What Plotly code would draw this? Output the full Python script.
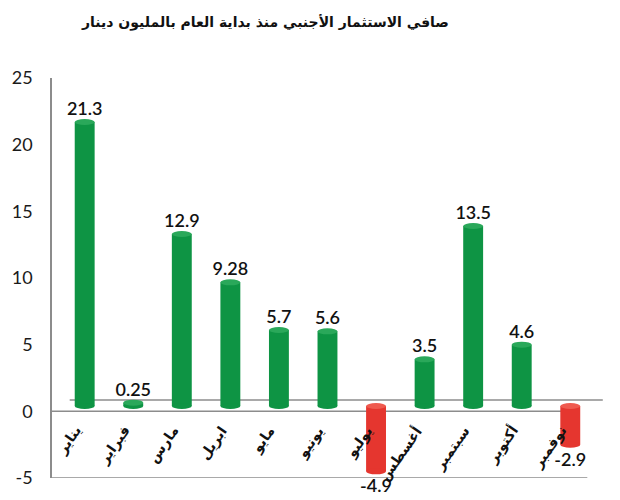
import plotly.graph_objects as go

months = ["يناير", "فبراير", "مارس", "ابريل", "مايو", "يونيو", "يوليو", "أغسطس", "سبتمبر", "أكتوبر", "نوفمبر"]
values = [21.3, 0.25, 12.9, 9.28, 5.7, 5.6, -4.9, 3.5, 13.5, 4.6, -2.9]
value_labels = ["21.3", "0.25", "12.9", "9.28", "5.7", "5.6", "-4.9", "3.5", "13.5", "4.6", "-2.9"]
title_text = "صافي الاستثمار الأجنبي منذ بداية العام بالمليون دينار"
y_ticks = [-5, 0, 5, 10, 15, 20, 25]

GREEN = "#0e9444"
GREEN_CAP = "#2aa85a"
RED = "#e5362f"
RED_CAP = "#ef5a4f"
colors = [GREEN if v >= 0 else RED for v in values]
caps = [GREEN_CAP if v >= 0 else RED_CAP for v in values]

idx = list(range(len(months)))
BW = 0.41

fig = go.Figure()
fig.add_trace(go.Bar(
    x=idx, y=values, width=BW,
    marker=dict(color=colors, line=dict(width=0)),
    text=value_labels, textposition="outside", constraintext="none",
    textfont=dict(family="Lato, Open Sans, sans-serif", size=18, color="#111111", weight=600),
    cliponaxis=False, yaxis="y2", showlegend=False,
))

shapes = []
# cylinder end caps
for i, v in zip(idx, values):
    top = max(v, 0)
    bot = min(v, 0)
    c = colors[i]
    shapes.append(dict(type="circle", xref="x", yref="y2", x0=i - BW / 2, x1=i + BW / 2,
                       ysizemode="pixel", yanchor=bot, y0=-3, y1=3,
                       fillcolor=c, line=dict(width=0), layer="above"))
    shapes.append(dict(type="circle", xref="x", yref="y2", x0=i - BW / 2, x1=i + BW / 2,
                       ysizemode="pixel", yanchor=top, y0=-3, y1=3,
                       fillcolor=caps[i], line=dict(width=0), layer="above"))

LINE = "#8c8c8c"
# back floor line
shapes.append(dict(type="line", xref="paper", yref="paper", x0=0.032, x1=0.996, y0=0.195, y1=0.195,
                   line=dict(color=LINE, width=1.5), layer="below"))
# zero line
shapes.append(dict(type="line", xref="paper", yref="y", x0=0, x1=0.952, y0=0, y1=0,
                   line=dict(color=LINE, width=1.5), layer="below"))
# bottom line
shapes.append(dict(type="line", xref="paper", yref="y", x0=0, x1=0.968, y0=-5, y1=-5,
                   line=dict(color=LINE, width=1.5), layer="below"))

annotations = []
for i, m in zip(idx, months):
    annotations.append(dict(x=i, y=0, xref="x", yref="y", text="<b>" + m + "</b>",
                            showarrow=False, textangle=-55, xanchor="right", yanchor="top",
                            xshift=3, yshift=-9,
                            font=dict(family="DejaVu Sans", size=14, color="#111111")))
annotations.append(dict(x=(262 - 47) / 558, y=(478 - 22) / 400, xref="paper", yref="paper",
                        xanchor="center", yanchor="middle", showarrow=False,
                        text="<b>" + title_text + "</b>",
                        font=dict(family="DejaVu Sans", size=14, color="#111111")))

fig.update_layout(
    width=620, height=500,
    margin=dict(l=47, r=15, t=78, b=22),
    paper_bgcolor="white", plot_bgcolor="white",
    xaxis=dict(range=[-0.673, 10.715], visible=False, fixedrange=True),
    yaxis=dict(range=[-5, 25], tickvals=y_ticks, ticktext=[str(t) for t in y_ticks],
               showgrid=False, zeroline=False, showline=True, linecolor=LINE, linewidth=1.5,
               ticks="", ticklabelstandoff=14,
               tickfont=dict(family="Lato, Open Sans, sans-serif", size=18, color="#1a1a1a")),
    yaxis2=dict(range=[-5.4, 24.6], overlaying="y", visible=False),
    shapes=shapes, annotations=annotations,
    bargap=0.59,
)

fig.write_html("out.html")
